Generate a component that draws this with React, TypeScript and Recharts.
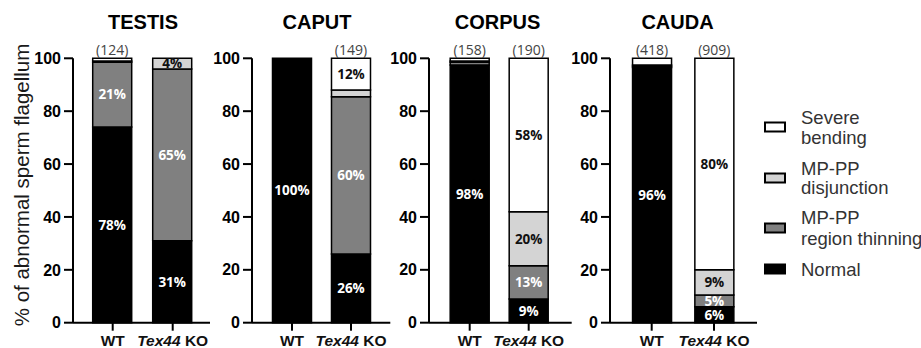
import React from 'react';
import { BarChart, Bar, XAxis, YAxis, LabelList } from 'recharts';

// ---------- data ----------
const categories = ['WT', 'Tex44 KO'];
const panelTitles = ['TESTIS', 'CAPUT', 'CORPUS', 'CAUDA'];
const sampleSizes = [['(124)', '(127)'], ['(138)', '(149)'], ['(158)', '(190)'], ['(418)', '(909)']];

// segment heights (% of flagella), per panel [WT, KO]
const normal = [[74, 31], [100, 26], [97.5, 9], [96.5, 6]];
const thinning = [[24.5, 65], [0, 59.5], [1, 12.5], [0.5, 4.5]];
const disjunction = [[0.5, 4], [0, 2.5], [0.5, 20.5], [0.5, 9.5]];
const bending = [[1, 0], [0, 12], [1, 58], [2.5, 80]];

// printed percentage labels
const normalLabels = [['78%', '31%'], ['100%', '26%'], ['98%', '9%'], ['96%', '6%']];
const thinningLabels = [['21%', '65%'], ['', '60%'], ['', '13%'], ['', '5%']];
const disjunctionLabels = [['', '4%'], ['', ''], ['', '20%'], ['', '9%']];
const bendingLabels = [['', ''], ['', '12%'], ['', '58%'], ['', '80%']];

const yTicks = [0, 20, 40, 60, 80, 100];
const yAxisTitle = '% of abnormal sperm flagellum';

const legendItems = [
  { lines: ['Severe', 'bending'], color: '#ffffff' },
  { lines: ['MP-PP', 'disjunction'], color: '#d4d4d4' },
  { lines: ['MP-PP', 'region thinning'], color: '#808080' },
  { lines: ['Normal'], color: '#000000' },
];

// ---------- layout (positions only) ----------
const layout = [
  { axisX: 73, endX: 210, c1: 112.7, c2: 172.7, titleX: 143 },
  { axisX: 251.7, endX: 390, c1: 291.7, c2: 350.7, titleX: 317 },
  { axisX: 429.3, endX: 572, c1: 470, c2: 529, titleX: 497.5 },
  { axisX: 610, endX: 757, c1: 651.7, c2: 714, titleX: 677.5 },
];
const legendRows = [
  { box: 127, base: [124, 144] },
  { box: 178, base: [175, 194] },
  { box: 228, base: [224, 245] },
  { box: 269, base: [276] },
];

const TOP = 58.3;
const AXIS_Y = 322.7;
const H = 348;
const YW = 60;
const ARIAL = 'Arial, "Liberation Sans", sans-serif';
const OPEN = '"Open Sans", sans-serif';

const XTick = (props: any) => {
  const { x, y, payload } = props;
  const v: string = payload.value;
  const parts = v.split(' ');
  return (
    <text x={x} y={y + 13.5} textAnchor="middle" fontFamily={ARIAL} fontWeight="bold" fontSize={15.5} fill="#111">
      {parts.length > 1 ? (
        <>
          <tspan fontStyle="italic">{parts[0]}</tspan>
          <tspan>{' ' + parts.slice(1).join(' ')}</tspan>
        </>
      ) : (
        v
      )}
    </text>
  );
};

const labelStyle = (fill: string) => ({
  fill,
  fontFamily: OPEN,
  fontWeight: 700,
  fontSize: 13.5,
});

function Panel({ i }: { i: number }) {
  const g = layout[i];
  const band = g.c2 - g.c1;
  const padL = g.c1 - band / 2 - g.axisX;
  const padR = g.endX - (g.c2 + band / 2);
  const plotW = g.endX - g.axisX;
  const width = YW + plotW + 4;
  const data = categories.map((c, k) => ({
    name: c,
    normal: normal[i][k],
    thinning: thinning[i][k],
    disjunction: disjunction[i][k],
    bending: bending[i][k],
    normalLbl: normalLabels[i][k],
    thinningLbl: thinningLabels[i][k],
    disjunctionLbl: disjunctionLabels[i][k],
    bendingLbl: bendingLabels[i][k],
    nLbl: sampleSizes[i][k],
  }));
  const barProps = { stackId: 's', stroke: '#000', strokeWidth: 1.5, isAnimationActive: false, barSize: 39 };
  return (
    <div style={{ position: 'absolute', left: g.axisX - YW, top: 0 }}>
      <BarChart
        width={width}
        height={H}
        data={data}
        margin={{ top: TOP, right: 4, bottom: 0, left: 0 }}
      >
        <XAxis
          dataKey="name"
          type="category"
          height={H - AXIS_Y}
          padding={{ left: padL, right: padR }}
          axisLine={{ stroke: '#000', strokeWidth: 2 }}
          tickLine={{ stroke: '#000', strokeWidth: 2 }}
          tickSize={8}
          tick={<XTick />}
          interval={0}
        />
        <YAxis
          width={YW}
          domain={[0, 100]}
          ticks={yTicks}
          type="number"
          axisLine={{ stroke: '#000', strokeWidth: 2 }}
          tickLine={{ stroke: '#000', strokeWidth: 2 }}
          tickSize={9}
          tickMargin={3}
          tick={{ fontSize: 16, fontWeight: 'bold', fill: '#000', fontFamily: ARIAL }}
        />
        <Bar dataKey="normal" fill="#000000" {...barProps}>
          <LabelList dataKey="normalLbl" position="center" {...labelStyle('#ffffff')} />
        </Bar>
        <Bar dataKey="thinning" fill="#808080" {...barProps}>
          <LabelList dataKey="thinningLbl" position="center" {...labelStyle('#ffffff')} />
        </Bar>
        <Bar dataKey="disjunction" fill="#d4d4d4" {...barProps}>
          <LabelList dataKey="disjunctionLbl" position="center" {...labelStyle('#111111')} />
        </Bar>
        <Bar dataKey="bending" fill="#ffffff" {...barProps}>
          <LabelList dataKey="bendingLbl" position="center" {...labelStyle('#111111')} />
          <LabelList
            dataKey="nLbl"
            position="top"
            offset={3}
            fill="#444"
            fontFamily={OPEN}
            fontSize={14}
          />
        </Bar>
      </BarChart>
    </div>
  );
}

export default function App() {
  return (
    <div style={{ position: 'absolute', left: 0, top: 0, width: 921, height: H, background: '#fff', overflow: 'hidden' }}>
      {panelTitles.map((_, i) => (
        <Panel key={i} i={i} />
      ))}
      <svg width={921} height={H} style={{ position: 'absolute', left: 0, top: 0, pointerEvents: 'none' }}>
        {panelTitles.map((t, i) => (
          <text key={t} x={layout[i].titleX} y={28.5} textAnchor="middle" fontFamily={ARIAL} fontWeight="bold" fontSize={20} fill="#000">
            {t}
          </text>
        ))}
        <text
          transform="translate(29,185) rotate(-90)"
          textAnchor="middle"
          fontFamily={ARIAL}
          fontSize={20.5}
          fill="#1a1a1a"
        >
          {yAxisTitle}
        </text>
        {legendItems.map((it, k) => (
          <g key={k}>
            <rect x={765} y={legendRows[k].box - 4.5} width={20} height={9} fill={it.color} stroke="#000" strokeWidth={2} />
            {it.lines.map((ln, j) => (
              <text key={j} x={801} y={legendRows[k].base[j]} fontFamily={ARIAL} fontSize={18.5} fill="#333">
                {ln}
              </text>
            ))}
          </g>
        ))}
      </svg>
    </div>
  );
}
